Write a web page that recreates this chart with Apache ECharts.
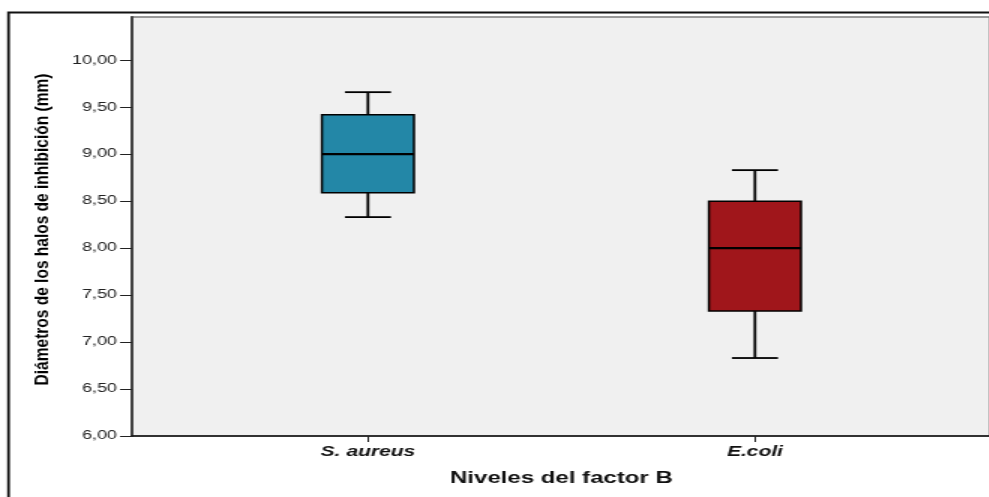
<!DOCTYPE html>
<html>
<head>
<meta charset="utf-8">
<script src="https://cdn.jsdelivr.net/npm/echarts@6/dist/echarts.min.js"></script>
<style>
  html, body { margin: 0; padding: 0; background: #ffffff; overflow: hidden; width: 989px; height: 497px; }
  #chart { width: 660px; height: 497px; transform: scaleX(1.5); transform-origin: 0 0; }
</style>
</head>
<body>
<div id="chart"></div>
<script>
// ---- data ----
const categories = ['S. aureus', 'E.coli'];
const whiskerLow  = [8.33, 6.83];
const q1          = [8.59, 7.33];
const median      = [9.00, 8.00];
const q3          = [9.42, 8.50];
const whiskerHigh = [9.66, 8.83];
const yTicks = [6.0, 6.5, 7.0, 7.5, 8.0, 8.5, 9.0, 9.5, 10.0];
const yMin = 6.0, yMax = 10.46;

// ---- styles ----
const boxColors = ['#2387a7', '#a0161b'];
const SX = 1.5; // horizontal stretch of the page

const boxData = categories.map((c, i) => [i, whiskerLow[i], q1[i], median[i], q3[i], whiskerHigh[i]]);

const chart = echarts.init(document.getElementById('chart'), null, { renderer: 'canvas' });

const fmt = v => v.toFixed(2).replace('.', ',');

chart.setOption({
  animation: false,
  backgroundColor: '#ffffff',
  grid: [
    { left: 88, top: 17, width: 640, height: 419, show: true, backgroundColor: '#f0f0f0', borderColor: '#7a7a7a', borderWidth: 1.5 },
    { left: 116.3, top: 17, width: 516, height: 419 }
  ],
  xAxis: [
    { gridIndex: 0, type: 'value', min: 0, max: 1, axisLine: { show: true, lineStyle: { color: '#111', width: 1.6 } },
      axisTick: { show: false }, axisLabel: { show: false }, splitLine: { show: false } },
    { gridIndex: 1, type: 'category', data: categories, boundaryGap: true,
      axisLine: { show: false },
      axisTick: { show: true, alignWithLabel: true, length: 6, lineStyle: { color: '#222', width: 1 } },
      axisLabel: { margin: 9, fontFamily: '"Liberation Sans", Arial, sans-serif', fontSize: 14, fontWeight: 'bold', fontStyle: 'italic', color: '#111' },
      name: 'Niveles del factor B', nameLocation: 'middle', nameGap: 43,
      nameTextStyle: { fontFamily: '"Liberation Sans", Arial, sans-serif', fontSize: 16, fontWeight: 'bold', color: '#111', verticalAlign: 'middle' }
    }
  ],
  yAxis: [
    { gridIndex: 0, type: 'value', min: yMin, max: yMax,
      axisLine: { show: true, lineStyle: { color: '#3a3a3a', width: 1.8 } },
      axisTick: { show: true, length: 8, customValues: yTicks, lineStyle: { color: '#222', width: 1 } },
      axisLabel: { margin: 10, customValues: yTicks, formatter: fmt, fontFamily: '"Liberation Sans", Arial, sans-serif', fontSize: 12, color: '#222' },
      splitLine: { show: false } },
    { gridIndex: 1, type: 'value', min: yMin, max: yMax, show: false }
  ],
  graphic: [
    { type: 'polyline', silent: true, shape: { points: [[5.7, 520], [5.7, 12.5], [720, 12.5]] },
      style: { stroke: '#111', lineWidth: 1.8, fill: null }, z: 10 },
    { type: 'text', x: 28.3, y: 229.5, rotation: Math.PI / 2, scaleY: 0.85,
      style: { text: 'Diámetros de los halos de inhibición (mm)', x: 0, y: 0,
        font: 'bold 15.5px "Liberation Sans", Arial, sans-serif', fill: '#000',
        align: 'center', verticalAlign: 'middle', textAlign: 'center', textVerticalAlign: 'middle' } }
  ],
  series: [{
    type: 'custom',
    xAxisIndex: 1, yAxisIndex: 1,
    data: boxData,
    renderItem: function (params, api) {
      const idx = api.value(0);
      const band = api.size([1, 0])[0];
      const boxW = band * 0.238;
      const capW = boxW * 0.5;
      const pLow = api.coord([idx, api.value(1)]);
      const pQ1 = api.coord([idx, api.value(2)]);
      const pMed = api.coord([idx, api.value(3)]);
      const pQ3 = api.coord([idx, api.value(4)]);
      const pHigh = api.coord([idx, api.value(5)]);
      const cx = pMed[0];
      const lineStyle = { stroke: '#000', lineWidth: 1.8 };
      return {
        type: 'group',
        children: [
          { type: 'line', shape: { x1: cx, y1: pHigh[1], x2: cx, y2: pQ3[1] }, style: lineStyle },
          { type: 'line', shape: { x1: cx, y1: pQ1[1], x2: cx, y2: pLow[1] }, style: lineStyle },
          { type: 'line', shape: { x1: cx - capW / 2, y1: pHigh[1], x2: cx + capW / 2, y2: pHigh[1] }, style: lineStyle },
          { type: 'line', shape: { x1: cx - capW / 2, y1: pLow[1], x2: cx + capW / 2, y2: pLow[1] }, style: lineStyle },
          { type: 'rect', shape: { x: cx - boxW / 2, y: pQ3[1], width: boxW, height: pQ1[1] - pQ3[1] },
            style: { fill: boxColors[params.dataIndex], stroke: '#000', lineWidth: 1.5 } },
          { type: 'line', shape: { x1: cx - boxW / 2, y1: pMed[1], x2: cx + boxW / 2, y2: pMed[1] },
            style: { stroke: '#000', lineWidth: 2.3 } }
        ]
      };
    }
  }]
});
</script>
</body>
</html>
